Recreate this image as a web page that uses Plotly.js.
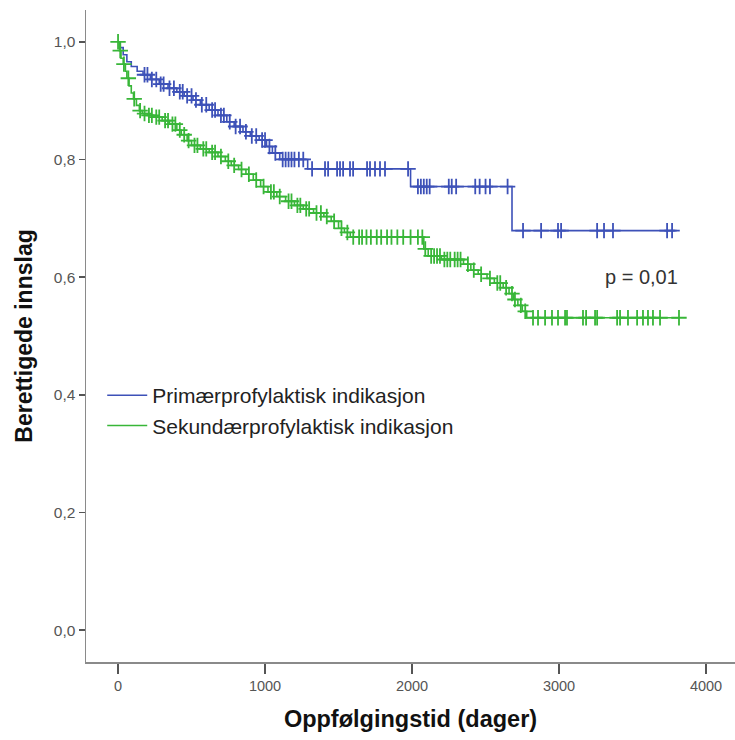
<!DOCTYPE html>
<html>
<head>
<meta charset="utf-8">
<script src="https://cdn.plot.ly/plotly-3.0.1.min.js"></script>
<style>html,body{margin:0;padding:0;background:#fff;}#chart{width:735px;height:740px;}</style>
</head>
<body>
<div id="chart"></div>
<script>
// Primærprofylaktisk indikasjon: event times (days) and survival after each step
const primTimes = [0, 15, 35, 60, 90, 130, 170, 220, 280, 340, 400, 450, 510, 560, 620, 680, 740, 790, 850, 900, 960, 1010, 1050, 1100, 1290, 1990, 2680];
const primSurv  = [1.0, 0.99, 0.978, 0.966, 0.958, 0.95, 0.944, 0.936, 0.928, 0.921, 0.915, 0.908, 0.901, 0.893, 0.884, 0.875, 0.864, 0.856, 0.847, 0.840, 0.833, 0.822, 0.811, 0.800, 0.784, 0.754, 0.679];
const primCensor = [180, 200, 230, 260, 290, 310, 350, 380, 420, 440, 470, 500, 530, 570, 600, 640, 660, 700, 720, 760, 800, 830, 870, 910, 940, 980, 1000, 1030, 1070, 1120, 1140, 1160, 1180, 1200, 1230, 1260,
  1320, 1408, 1429, 1490, 1510, 1531, 1578, 1599, 1694, 1714, 1748, 1782, 1816, 1973,
  2040, 2060, 2080, 2100, 2120, 2250, 2270, 2300, 2430, 2460, 2500, 2530, 2650,
  2755, 2878, 2993, 3014, 3259, 3306, 3367, 3735, 3769];
const primEnd = 3800;

// Sekundærprofylaktisk indikasjon
const sekTimes = [0, 10, 20, 35, 50, 60, 75, 90, 105, 125, 145, 165, 200, 240, 300, 350, 400, 430, 470, 500, 560, 620, 680, 730, 770, 820, 870, 920, 970, 1020, 1080, 1140, 1200, 1260, 1330, 1400, 1450, 1500, 1540, 1580, 2080, 2110, 2200, 2350, 2400, 2450, 2510, 2560, 2620, 2660, 2690, 2720, 2750, 2780];
const sekSurv  = [1.0, 0.985, 0.972, 0.962, 0.95, 0.938, 0.925, 0.913, 0.903, 0.892, 0.883, 0.878, 0.875, 0.872, 0.866, 0.860, 0.850, 0.842, 0.832, 0.824, 0.818, 0.812, 0.805, 0.797, 0.790, 0.783, 0.775, 0.765, 0.754, 0.745, 0.737, 0.729, 0.722, 0.716, 0.709, 0.703, 0.695, 0.683, 0.676, 0.668, 0.648, 0.636, 0.630, 0.622, 0.612, 0.605, 0.598, 0.590, 0.582, 0.572, 0.562, 0.552, 0.542, 0.531];
const sekCensor = [0, 15, 40, 70, 110, 150, 180, 210, 230, 260, 280, 320, 340, 370, 390, 420, 450, 480, 520, 540, 580, 600, 640, 660, 700, 750, 790, 840, 890, 940, 990, 1040, 1060, 1100, 1160, 1180, 1220, 1240, 1280, 1300, 1350, 1380, 1420, 1470, 1520,
  1560, 1600, 1640, 1660, 1690, 1720, 1760, 1790, 1830, 1860, 1900, 1940, 1990, 2040, 2070,
  2090, 2130, 2150, 2170, 2190, 2220, 2240, 2260, 2290, 2310, 2330, 2380, 2420, 2470, 2530, 2580, 2600, 2640, 2680, 2700, 2740, 2770,
  2823, 2857, 2905, 2952, 2993, 3041, 3054, 3163, 3184, 3245, 3259, 3395, 3415, 3469, 3531, 3571, 3605, 3639, 3687, 3816];
const sekEnd = 3816;

const seriesNames = ["Primærprofylaktisk indikasjon", "Sekundærprofylaktisk indikasjon"];
const pText = "p = 0,01";

const blue = "#3d51b8";
const green = "#38b638";

function survAt(times, surv, t) {
  let s = surv[0];
  for (let i = 0; i < times.length; i++) { if (times[i] <= t) s = surv[i]; }
  return s;
}

function makeTraces(times, surv, censor, end, name, color) {
  const lx = times.concat([end]);
  const ly = surv.concat([surv[surv.length - 1]]);
  return [
    {x: lx, y: ly, type: "scatter", mode: "lines", line: {shape: "hv", color: color, width: 1.6}, name: name, showlegend: true, hoverinfo: "skip"},
    {x: censor, y: censor.map(t => survAt(times, surv, t)), type: "scatter", mode: "markers",
     marker: {symbol: "cross-thin", size: 11, line: {color: color, width: 1.8}}, showlegend: false, hoverinfo: "skip"}
  ];
}

const data = [].concat(
  makeTraces(primTimes, primSurv, primCensor, primEnd, seriesNames[0], blue),
  makeTraces(sekTimes, sekSurv, sekCensor, sekEnd, seriesNames[1], green)
);

const layout = {
  width: 735, height: 740,
  margin: {l: 86, r: 0, t: 10, b: 78, pad: 0},
  paper_bgcolor: "#fff", plot_bgcolor: "#fff",
  separators: ", ",
  font: {family: "Liberation Sans, Arial, sans-serif", color: "#222"},
  showlegend: true,
  legend: {x: 0.025, y: 0.44, xanchor: "left", yanchor: "top", bgcolor: "rgba(0,0,0,0)",
           font: {size: 21, color: "#222"}, itemwidth: 40, tracegroupgap: 0},
  xaxis: {
    range: [-218, 4197], tickvals: [0, 1000, 2000, 3000, 4000], tickformat: "d",
    showgrid: false, zeroline: false, showline: true, linecolor: "#8a8a8a", linewidth: 1.5,
    ticks: "outside", ticklen: 10, tickwidth: 1.5, tickcolor: "#555",
    tickfont: {size: 14.5, color: "#555"},
    title: {text: "Oppfølgingstid (dager)", font: {size: 23.5, color: "#111", weight: "bold"}, standoff: 17}
  },
  yaxis: {
    range: [-0.054, 1.054], tickvals: [0, 0.2, 0.4, 0.6, 0.8, 1.0], tickformat: ".1f",
    showgrid: false, zeroline: false, showline: true, linecolor: "#8a8a8a", linewidth: 1.5,
    ticks: "outside", ticklen: 6, tickwidth: 1.5, tickcolor: "#555",
    tickfont: {size: 15.5, color: "#555"},
    title: {text: "Berettigede innslag", font: {size: 23, color: "#111", weight: "bold"}, standoff: 15}
  },
  annotations: [{x: 3560, y: 0.60, xref: "x", yref: "y", text: pText, showarrow: false,
                 font: {size: 20, color: "#333"}, xanchor: "center", yanchor: "middle"}]
};

Plotly.newPlot("chart", data, layout, {staticPlot: true, displayModeBar: false});
</script>
</body>
</html>
